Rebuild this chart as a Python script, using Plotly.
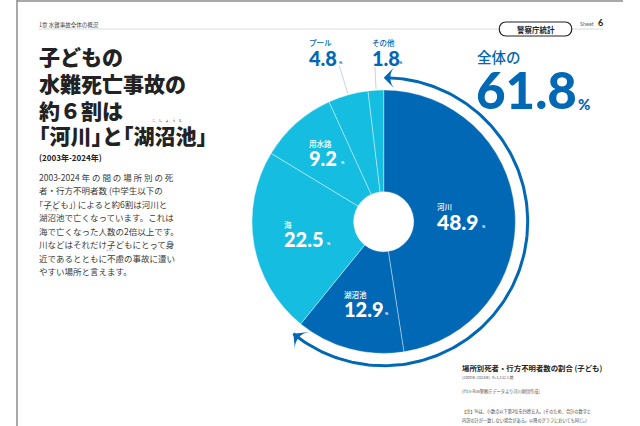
import numpy as np
import plotly.graph_objects as go

W, H = 640, 426
JP = 'Noto Sans CJK JP'
NUM = 'Lato'
DARK = '#0068b4'
CYAN = '#15bde0'

categories = ['河川', '湖沼池', '海', '用水路', 'プール', 'その他']
printed_share = ['48.9', '12.9', '22.5', '9.2', '4.8', '1.8']
# wedge sizes as measured on the picture, they differ a little from the printed numbers
drawn_share = [47.5, 13.3, 22.8, 9.5, 4.9, 1.9]
slice_colors = [DARK, DARK, CYAN, CYAN, CYAN, CYAN]
total_printed = '61.8'
total_drawn = 60.8

# halfwidth brackets, the reference sets them tight
title_lines = ['子どもの', '水難死亡事故の', '約６割は', '｢河川｣と｢湖沼池｣']
body_lines = [
    '2003-2024 年 の 間 の 場 所 別 の 死',
    '者・行方不明者数 (中学生以下の',
    '｢子ども｣) によると約6割は河川と',
    '湖沼池で亡くなっています。これは',
    '海で亡くなった人数の2倍以上です。',
    '川などはそれだけ子どもにとって身',
    '近であるとともに不慮の事故に遭い',
    'やすい場所と言えます。',
]

fig = go.Figure()


def text(x, y, s, size, color='#222222', weight=400, family=JP, anchor='left'):
    fig.add_annotation(x=x, y=y, xref='x', yref='y', text=s, showarrow=False,
                       xanchor=anchor, yanchor='middle', borderpad=0,
                       font=dict(size=size, color=color, family=family, weight=weight))


def line(x0, y0, x1, y1, color, width):
    fig.add_shape(type='line', x0=x0, y0=y0, x1=x1, y1=y1, xref='x', yref='y',
                  line=dict(color=color, width=width))


# pie
cx, cy, r = 383.7, 221.7, 131.7
fig.add_trace(go.Pie(
    labels=categories, values=drawn_share, sort=False, direction='clockwise', rotation=0,
    hole=0.228, textinfo='none', showlegend=False,
    marker=dict(colors=slice_colors, line=dict(color='rgba(255,255,255,0.55)', width=0.7)),
    domain=dict(x=[(cx - r) / W, (cx + r) / W], y=[1 - (cy + r) / H, 1 - (cy - r) / H]),
))

# arrow arc around the river + lake share
arc_r = 144
theta = np.radians(np.linspace(1, total_drawn * 3.6, 160))
fig.add_trace(go.Scatter(
    x=cx + arc_r * np.sin(theta), y=cy - arc_r * np.cos(theta), mode='lines',
    line=dict(color=DARK, width=3), showlegend=False, hoverinfo='skip',
))
end = theta[-1]
fig.add_trace(go.Scatter(
    x=[cx, cx + arc_r * np.sin(end)], y=[cy - arc_r, cy - arc_r * np.cos(end)], mode='markers',
    marker=dict(symbol='arrow-wide', size=16, color=DARK, angle=[-90, np.degrees(end) + 90],
                line=dict(width=0)),
    showlegend=False, hoverinfo='skip',
))

# page frame and header
line(17, 0, 17, H, '#8c8c8c', 1.5)
line(17, 1, 623, 1, '#8c8c8c', 1.5)
line(38, 29, 603, 29, '#dcdcdc', 1)
fig.add_shape(type='path', xref='x', yref='y', fillcolor='white', line=dict(color='#222222', width=1.2),
              path='M 506 22 L 565 22 C 574 22 574 36 565 36 L 506 36 C 497 36 497 22 506 22 Z')
text(38, 24.5, '1章 水難事故全体の概況', 5.5, '#444444')
text(535.5, 29.5, '警察庁統計', 7.5, '#222222', 700, anchor='center')
text(579, 23.5, 'Sheet', 5.5, '#666666', 400, 'Lato')
text(597, 22.5, '6', 9, '#222222', 700, 'Lato')

# heading
for s, y in zip(title_lines, [56, 83, 110, 135]):
    text(38, y, s, 21, '#222222', 900)
text(167, 120.5, 'こ    し    ょ    う    ち', 3.5, '#333333', 400, anchor='center')
text(38, 157, '(2003年-2024年)', 8, '#222222', 700)

# body copy
for i, s in enumerate(body_lines):
    text(38, 177 + i * 13.45, s, 8.5, '#3a3a3a', 400)
text(51, 209.5, 'こしょうち', 2.5, '#555555', anchor='center')
text(110, 250, 'ふりょ', 2.5, '#555555', anchor='center')
text(154, 249, 'あ', 2.5, '#555555', anchor='center')

# labels, one x/y per category
label_x = [436, 343, 283, 308, 308, 371]
label_y = [206.5, 294, 224, 143, 42, 42]
value_y = [221.7, 309, 239, 158, 58, 58]
value_size = [21, 20, 20, 20, 20, 20]
pct_x = [481, 384, 326, 340, 338, 398]
label_color = ['white', 'white', 'white', 'white', DARK, DARK]
for i, name in enumerate(categories):
    text(label_x[i], label_y[i], name, 7.5, label_color[i], 500)
    text(label_x[i], value_y[i], printed_share[i], value_size[i], label_color[i], 900, NUM)
    text(pct_x[i], value_y[i] + 4.5, '%', 4, label_color[i], 700, NUM)
line(339, 65, 347.7, 93, '#a9c4d4', 0.7)
line(375, 67, 376, 89, '#a9c4d4', 0.7)

# total
text(476, 56, '全体の', 14.5, DARK, 500)
text(475, 89, total_printed, 51, DARK, 900, NUM)
text(577, 104, '%', 15, DARK, 900, NUM)

# notes
text(461, 367, '場所別死者・行方不明者数の割合 (子ども)', 7.4, '#222222', 700)
text(461, 377, '(2003年-2024年)  n=1,132人数', 3.8, '#555555')
text(461, 391, '(H15-R06警察庁データより河川財団作成)', 4.2, '#555555')
text(461, 411.5, '【注】%は、小数点以下第2位を四捨五入。(そのため、合計の数字と', 4.2, '#444444')
text(461, 420, '内訳の計が一致しない場合がある。以降のグラフにおいても同じ。)', 4.2, '#444444')

fig.update_layout(
    width=W, height=H, margin=dict(l=0, r=0, t=0, b=0),
    paper_bgcolor='white', plot_bgcolor='rgba(0,0,0,0)',
    xaxis=dict(range=[0, W], visible=False, fixedrange=True),
    yaxis=dict(range=[H, 0], visible=False, fixedrange=True),
)
fig.write_html('out.html', config=dict(displayModeBar=False),
               post_script="document.body.style.margin='0';")
